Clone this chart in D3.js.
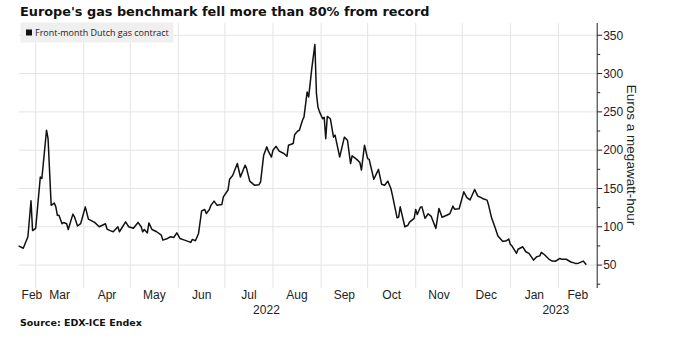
<!DOCTYPE html>
<html><head><meta charset="utf-8">
<script src="https://cdn.jsdelivr.net/npm/d3@7"></script>
<style>body{margin:0;background:#fff} svg{display:block}</style>
</head><body>
<svg id="c" width="675" height="360"></svg>
<script>
// ---------- data ----------
const titleText = "Europe's gas benchmark fell more than 80% from record";
const legendLabel = "Front-month Dutch gas contract";
const yAxisTitle = "Euros a megawatt-hour";
const sourceText = "Source: EDX-ICE Endex";
const yTicks = [50, 100, 150, 200, 250, 300, 350];
const yMinorTicks = [25, 75, 125, 175, 225, 275, 325];
const monthLabels = ["Feb","Mar","Apr","May","Jun","Jul","Aug","Sep","Oct","Nov","Dec","Jan","Feb"];
const yearLabels = ["2022", "2023"];
const domainDates = ["2022-02-18", "2023-02-26"];
const yDomain = [24, 366];

const dates = [
"2022-02-18","2022-02-21","2022-02-24","2022-02-26","2022-02-27","2022-03-01","2022-03-04","2022-03-05","2022-03-08","2022-03-09",
"2022-03-11","2022-03-13","2022-03-14","2022-03-15","2022-03-16","2022-03-18","2022-03-19","2022-03-21","2022-03-22","2022-03-25",
"2022-03-26","2022-03-28","2022-03-30","2022-04-02","2022-04-04","2022-04-08","2022-04-11","2022-04-15","2022-04-16","2022-04-18",
"2022-04-20","2022-04-23","2022-04-24","2022-04-28","2022-04-30","2022-05-03","2022-05-06","2022-05-08","2022-05-09","2022-05-10",
"2022-05-12","2022-05-13","2022-05-15","2022-05-18","2022-05-21","2022-05-22","2022-05-25","2022-05-27","2022-05-29","2022-05-31",
"2022-06-02","2022-06-05","2022-06-09","2022-06-10","2022-06-12","2022-06-14","2022-06-16","2022-06-18","2022-06-19","2022-06-21",
"2022-06-22","2022-06-24","2022-06-26","2022-06-29","2022-06-30","2022-07-03","2022-07-04","2022-07-06","2022-07-09","2022-07-11",
"2022-07-14","2022-07-15","2022-07-17","2022-07-20","2022-07-23","2022-07-24","2022-07-26","2022-07-28","2022-07-29","2022-07-31",
"2022-08-01","2022-08-03","2022-08-05","2022-08-08","2022-08-10","2022-08-11","2022-08-14","2022-08-15","2022-08-17","2022-08-18",
"2022-08-20","2022-08-21","2022-08-23","2022-08-24","2022-08-26","2022-08-28","2022-08-29","2022-08-30","2022-08-31","2022-09-02",
"2022-09-03","2022-09-04","2022-09-05","2022-09-07","2022-09-09","2022-09-10","2022-09-13","2022-09-16","2022-09-18","2022-09-20",
"2022-09-21","2022-09-24","2022-09-26","2022-09-27","2022-09-29","2022-10-01","2022-10-02","2022-10-05","2022-10-08","2022-10-10",
"2022-10-12","2022-10-14","2022-10-16","2022-10-17","2022-10-20","2022-10-21","2022-10-22","2022-10-25","2022-10-27","2022-10-28",
"2022-10-31","2022-11-01","2022-11-02","2022-11-04","2022-11-05","2022-11-07","2022-11-09","2022-11-11","2022-11-14","2022-11-16",
"2022-11-18","2022-11-21","2022-11-23","2022-11-25","2022-11-26","2022-11-29","2022-12-02","2022-12-04","2022-12-06","2022-12-09",
"2022-12-11","2022-12-13","2022-12-14","2022-12-17","2022-12-18","2022-12-20","2022-12-22","2022-12-24","2022-12-27","2022-12-29",
"2022-12-31","2023-01-01","2023-01-02","2023-01-05","2023-01-06","2023-01-09","2023-01-11","2023-01-13","2023-01-16","2023-01-18",
"2023-01-20","2023-01-21","2023-01-23","2023-01-26","2023-01-28","2023-01-30","2023-02-02","2023-02-03","2023-02-06","2023-02-09",
"2023-02-12","2023-02-14","2023-02-17","2023-02-19"
];
const prices = [
75,72,87,134,95,98,165,163,226,215,
128,131,126,115,115,104,105.6,104,96.5,116.5,
113,101,104,126,110,105.7,100,104,97,95,
93.5,100,93.5,106.5,100,98,105.7,100,93.5,96.5,
92,105,96.5,93.5,89,82.6,84.8,87,86,92,
84.8,82.6,79.6,83.5,81.7,91.3,120.8,122.6,117.4,122.6,
128,133.5,128,129,139,148,162,167,182.6,165,
180.4,176,159.6,154.3,155,158.6,193.5,204.3,198.7,191,
200,205,198.7,195.7,192,206.5,208.7,220.5,225,226,
239,243.5,276,269.5,306.5,338,274,256,250,241,
243,215,244,241,217,219.6,191,217,213,182.6,
192.6,188,184,174,206.5,189,188,162,175,155.6,
154.3,159.6,150,141,111.7,112.5,126,100,102,106,
111,122.6,116,125.5,126,111,117,113.5,97.9,124,
112.5,115,117,127,123,123.5,145.6,138,135,148.7,
140,138.3,137,134.8,128,111,100,88,81,81.3,
84,77,75.2,65.3,70.7,73.9,67.4,65.3,56.5,60.8,
62,66.6,63.5,57.5,55.2,55,58.7,57.5,57.6,54,
52.2,52.5,55.2,50.5
];

// ---------- chart ----------
const parse = d3.utcParse("%Y-%m-%d");
const data = dates.map((d, i) => ({ date: parse(d), value: prices[i] }));
const d0 = parse(domainDates[0]), d1 = parse(domainDates[1]);

const svg = d3.select("#c");
const x = d3.scaleUtc().domain([d0, d1]).range([18.6, 597.2]);
const y = d3.scaleLinear().domain(yDomain).range([285, 23]);
const axisFont = "'Liberation Sans', Arial, sans-serif";

// gridlines
const monthStarts = d3.utcMonth.range(d3.utcMonth.ceil(d0), d1);
svg.append("g").selectAll("line").data(monthStarts).join("line")
  .attr("x1", d => x(d)).attr("x2", d => x(d))
  .attr("y1", 23).attr("y2", 288)
  .attr("stroke", "#e4e4e4").attr("stroke-width", 1);
svg.append("g").selectAll("line").data(yTicks).join("line")
  .attr("x1", x.range()[0]).attr("x2", x.range()[1])
  .attr("y1", d => y(d)).attr("y2", d => y(d))
  .attr("stroke", "#e4e4e4").attr("stroke-width", 1);

// line
svg.append("path").datum(data)
  .attr("fill", "none").attr("stroke", "#111").attr("stroke-width", 1.5)
  .attr("stroke-linejoin", "round")
  .attr("d", d3.line().x(d => x(d.date)).y(d => y(d.value)));

// right axis
const yAxis = svg.append("g").attr("transform", `translate(${x.range()[1]},0)`);
yAxis.append("line").attr("x1", 0).attr("x2", 0).attr("y1", 23).attr("y2", 288)
  .attr("stroke", "#222").attr("stroke-width", 1);
yAxis.append("g").selectAll("line").data(yMinorTicks).join("line")
  .attr("x1", 0).attr("x2", 3).attr("y1", d => y(d)).attr("y2", d => y(d))
  .attr("stroke", "#222");
yAxis.append("g").selectAll("line").data(yTicks).join("line")
  .attr("x1", 0).attr("x2", 5).attr("y1", d => y(d)).attr("y2", d => y(d))
  .attr("stroke", "#222");
yAxis.append("g").selectAll("text").data(yTicks).join("text")
  .attr("x", 6).attr("y", d => y(d)).attr("dy", "0.36em")
  .attr("font-family", axisFont).attr("font-size", 12).attr("fill", "#222")
  .text(d => d);
svg.append("text")
  .attr("transform", `translate(627,155) rotate(90)`)
  .attr("text-anchor", "middle")
  .attr("font-family", axisFont).attr("font-size", 13.5).attr("fill", "#222")
  .text(yAxisTitle);

// month labels
const monthsAll = [d3.utcMonth.floor(d0), ...monthStarts];
const mg = svg.append("g");
monthsAll.forEach((m, i) => {
  const a = Math.max(x(m), x.range()[0]);
  const b = Math.min(x(d3.utcMonth.offset(m, 1)), x.range()[1]);
  const t = mg.append("text").attr("text-anchor", "middle")
    .attr("font-family", axisFont).attr("font-size", 12).attr("fill", "#222")
    .attr("y", 299).text(monthLabels[i]);
  const w = t.node().getComputedTextLength();
  let c = (a + b) / 2;
  c = Math.max(c, x.range()[0] + w / 2 + 3);
  t.attr("x", c);
});
// year labels
const yearBounds = [[d0, parse("2023-01-01")], [parse("2023-01-01"), d1]];
svg.append("g").selectAll("text").data(yearLabels).join("text")
  .attr("text-anchor", "middle")
  .attr("x", (d, i) => (x(yearBounds[i][0]) + x(yearBounds[i][1])) / 2 + 2)
  .attr("y", 314)
  .attr("font-family", axisFont).attr("font-size", 12).attr("fill", "#222")
  .text(d => d);

// title
const title = svg.append("text").attr("x", 20).attr("y", 16)
  .attr("font-family", "'DejaVu Sans', Verdana, sans-serif").attr("font-weight", "bold")
  .attr("font-size", 13).attr("fill", "#111").text(titleText);
const tw = title.node().getComputedTextLength();
title.attr("font-size", 13 * 410 / tw);

// legend
svg.append("rect").attr("x", 20.5).attr("y", 22.5).attr("width", 153).attr("height", 20)
  .attr("fill", "#efefef");
svg.append("rect").attr("x", 26).attr("y", 29.5).attr("width", 6).attr("height", 6).attr("fill", "#111");
const lg = svg.append("text").attr("x", 35).attr("y", 36)
  .attr("font-family", "'Open Sans', 'Noto Sans', sans-serif")
  .attr("font-size", 10).attr("fill", "#222").text(legendLabel);
const lw = lg.node().getComputedTextLength();
lg.attr("font-size", 10 * 134 / lw);

// source
const src = svg.append("text").attr("x", 20).attr("y", 326)
  .attr("font-family", "'DejaVu Sans', Verdana, sans-serif").attr("font-weight", "bold")
  .attr("font-size", 10).attr("fill", "#111").text(sourceText);
const sw = src.node().getComputedTextLength();
src.attr("font-size", 10 * 122 / sw);
</script>
</body></html>
